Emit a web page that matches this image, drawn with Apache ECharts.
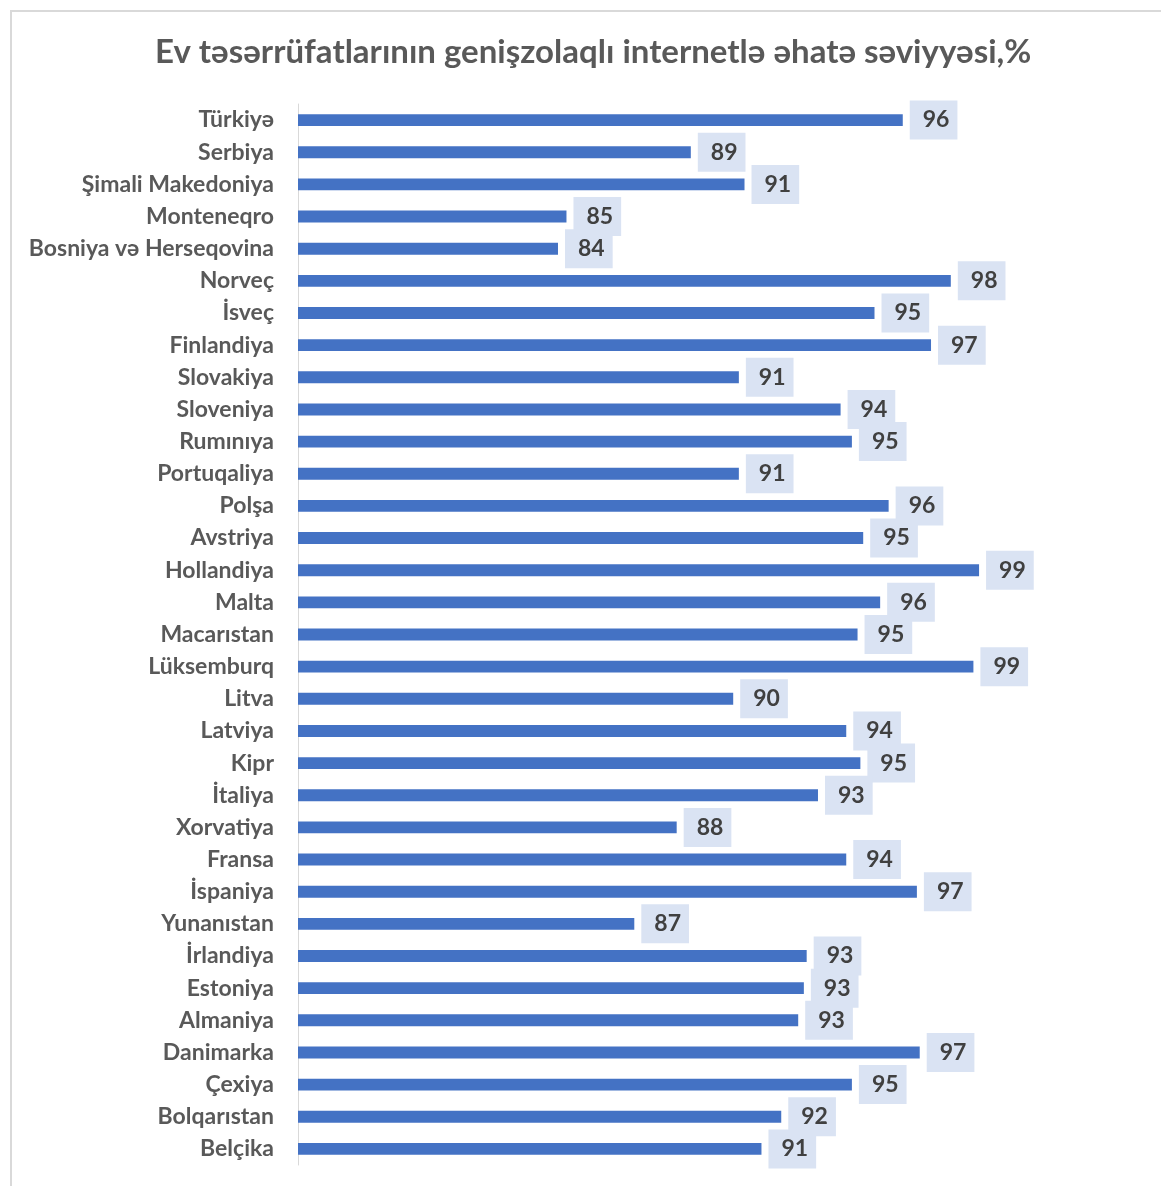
<!DOCTYPE html>
<html>
<head>
<meta charset="utf-8">
<script src="https://cdn.jsdelivr.net/npm/echarts@6/dist/echarts.min.js"></script>
<style>
  html, body { margin: 0; padding: 0; background: #ffffff; }
  #frame { position: absolute; left: 10px; top: 10px; width: 1200px; height: 1200px;
           border: 2px solid #d9d9d9; box-sizing: border-box; }
  #chart { position: absolute; left: 0; top: 0; width: 1161px; height: 1186px; }
</style>
</head>
<body>
<div id="frame"></div>
<div id="chart"></div>
<script>
// Countries, listed top to bottom
const countries = [
  'Türkiyə', 'Serbiya', 'Şimali Makedoniya', 'Monteneqro', 'Bosniya və Herseqovina',
  'Norveç', 'İsveç', 'Finlandiya', 'Slovakiya', 'Sloveniya', 'Rumınıya', 'Portuqaliya',
  'Polşa', 'Avstriya', 'Hollandiya', 'Malta', 'Macarıstan', 'Lüksemburq', 'Litva',
  'Latviya', 'Kipr', 'İtaliya', 'Xorvatiya', 'Fransa', 'İspaniya', 'Yunanıstan',
  'İrlandiya', 'Estoniya', 'Almaniya', 'Danimarka', 'Çexiya', 'Bolqarıstan', 'Belçika'
];

// Share of households with broadband internet access, %
const coverage = [
  96.4, 88.9, 90.8, 84.5, 84.2,
  98.1, 95.4, 97.4, 90.6, 94.2, 94.6, 90.6,
  95.9, 95.0, 99.1, 95.6, 94.8, 98.9, 90.4,
  94.4, 94.9, 93.4, 88.4, 94.4, 96.9, 86.9,
  93.0, 92.9, 92.7, 97.0, 94.6, 92.1, 91.4
];

const chartTitle = 'Ev təsərrüfatlarının genişzolaqlı internetlə əhatə səviyyəsi,%';
const FONT = 'Lato, "Open Sans", "Noto Sans", sans-serif';

const chart = echarts.init(document.getElementById('chart'), null, { renderer: 'canvas' });

chart.setOption({
  animation: false,
  title: {
    text: chartTitle,
    left: 150,
    top: 31,
    textStyle: { fontFamily: FONT, fontSize: 33, fontWeight: 'bold', color: '#595959' }
  },
  grid: { left: 298, right: 156.5, top: 104, bottom: 21, containLabel: false },
  xAxis: {
    type: 'value',
    min: 75,
    max: 100,
    show: false
  },
  yAxis: {
    type: 'category',
    data: countries,
    inverse: true,
    axisLine: { show: true, lineStyle: { color: '#d9d9d9', width: 1 } },
    axisTick: { show: false },
    splitLine: { show: false },
    axisLabel: {
      margin: 24,
      fontFamily: FONT,
      fontSize: 23,
      fontWeight: 'bold',
      color: '#595959'
    }
  },
  series: [{
    type: 'bar',
    data: coverage,
    barWidth: '37%',
    itemStyle: { color: '#4472C4' },
    label: {
      show: true,
      position: 'right',
      distance: 7,
      formatter: p => String(Math.round(p.value)),
      fontFamily: FONT,
      fontSize: 23,
      lineHeight: 21,
      fontWeight: 'bold',
      color: '#404040',
      backgroundColor: '#DAE3F3',
      padding: [9, 8, 9, 13]
    }
  }]
});
</script>
</body>
</html>
